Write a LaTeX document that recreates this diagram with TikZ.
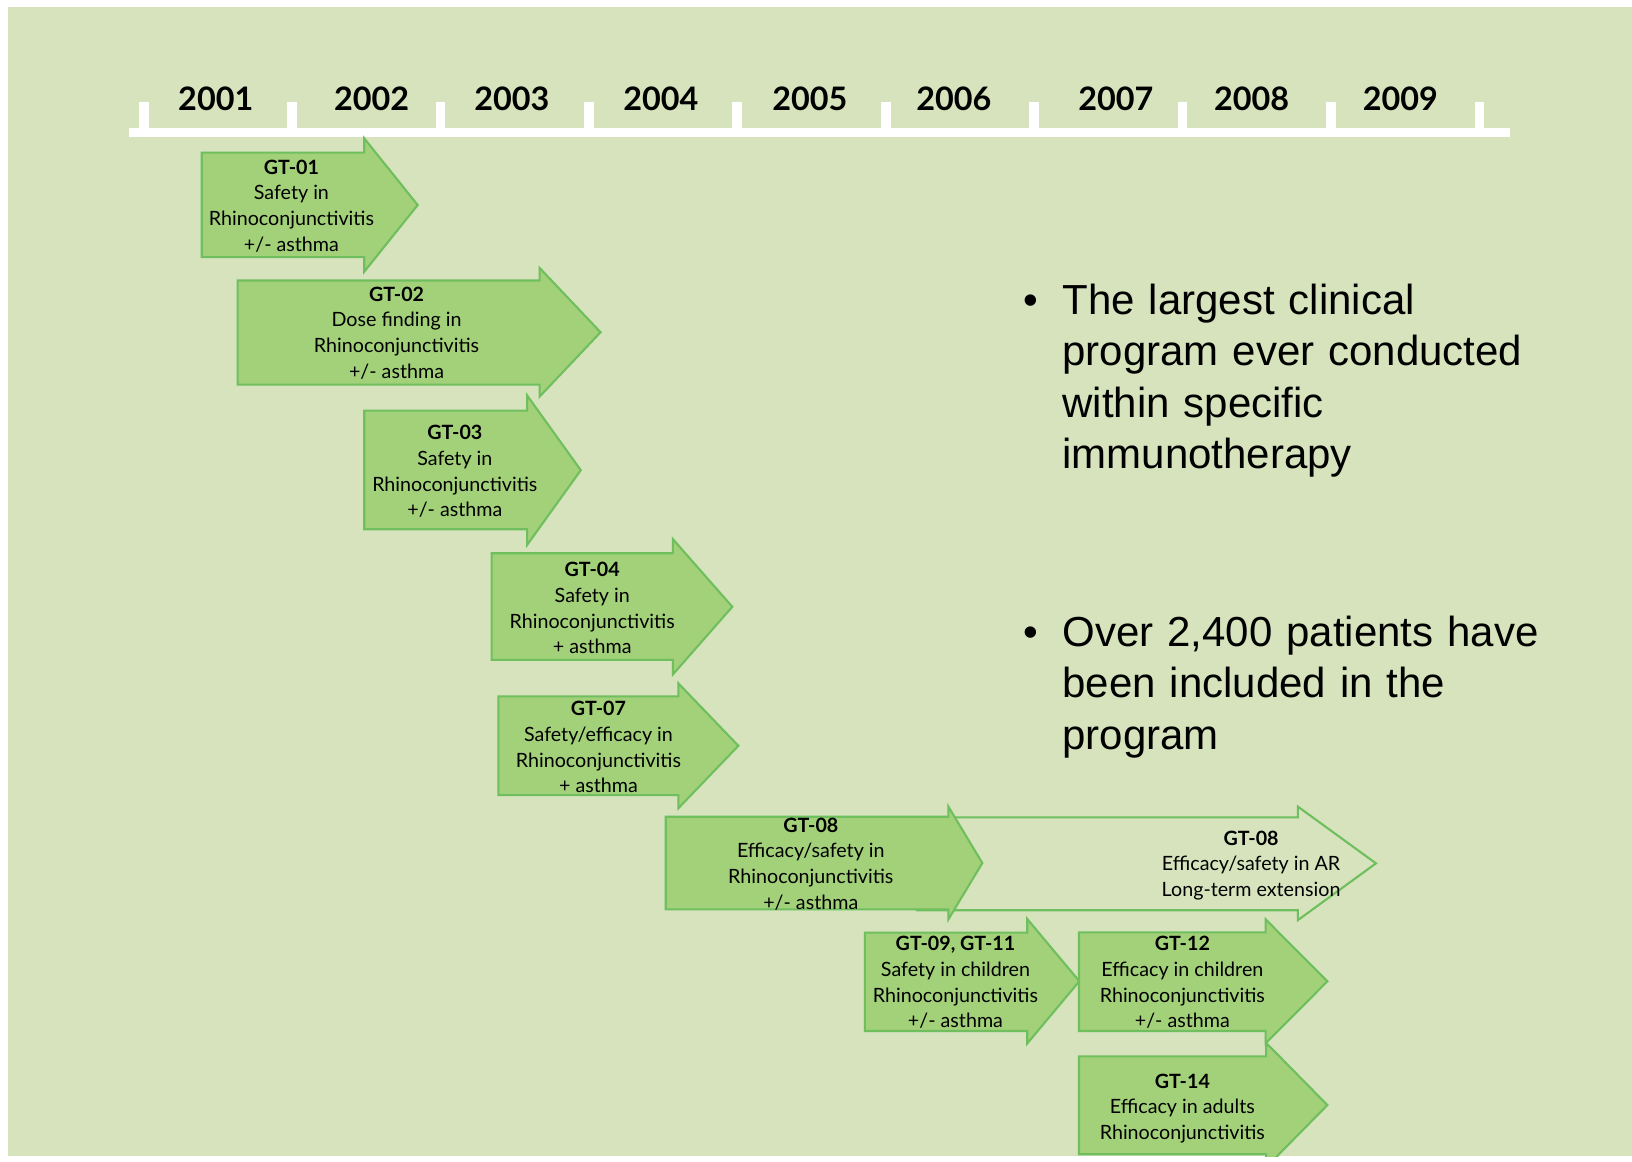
\documentclass[tikz,border=0pt]{standalone}
\usepackage{fontspec}
\setmainfont{Lato}
\newfontfamily\arialfont{Liberation Sans}
\usepackage{tikz}
\definecolor{slidebg}{HTML}{D6E3BC}
\definecolor{gtfill}{HTML}{A3D17A}
\definecolor{gtline}{HTML}{6FBF5F}
\def\gtarrow[#1](#2:#3:#4)(#5:#6:#7:#8){\draw[#1] (#2,#5) -- (#3,#5) -- (#3,#7) -- (#4,{(#7+#8)/2}) -- (#3,#8) -- (#3,#6) -- (#2,#6) -- cycle;}
\tikzset{
	gtbox/.style={fill=gtfill, draw=gtline, line width=0.6pt},
	gtopen/.style={draw=gtline, line width=0.6pt},
	gttext/.style={align=center, inner sep=0pt, font=\fontsize{5.6}{7.3}\selectfont},
	yearlbl/.style={anchor=base, inner sep=0pt, font=\fontsize{9.2}{11}\selectfont\bfseries},
	bulletxt/.style={anchor=base west, inner sep=0pt, text width=5.6cm, align=left, font=\arialfont\fontsize{11.95}{14.66}\selectfont},
	bulletdot/.style={anchor=base, inner sep=0pt, font=\arialfont\fontsize{11.95}{14.66}\selectfont}
}

\begin{document}
\begin{tikzpicture}[x={(0.010408cm,0)}, y={(0,-0.010408cm)}]
			%%%%% START %%%%%
			\useasboundingbox (0,0) rectangle (1568,1116);
			\fill[slidebg] (7.7,6.7) rectangle (1568,1111);
			
			% timeline
			\fill[white] (123.6,122.7) rectangle (1451,132);
			\fill[white] (133.3,98) rectangle (142.7,123);
			\fill[white] (275.9,98) rectangle (285.3,123);
			\fill[white] (418.5,98) rectangle (427.9,123);
			\fill[white] (561.1,98) rectangle (570.5,123);
			\fill[white] (703.7,98) rectangle (713.1,123);
			\fill[white] (846.3,98) rectangle (855.7,123);
			\fill[white] (988.9,98) rectangle (998.3,123);
			\fill[white] (1131.5,98) rectangle (1140.9,123);
			\fill[white] (1274.1,98) rectangle (1283.5,123);
			\fill[white] (1416.7,98) rectangle (1426.1,123);
			
			\node[yearlbl] (y2001) at (207.3,105.7) {2001};
			\node[yearlbl] (y2002) at (357,105.7) {2002};
			\node[yearlbl] (y2003) at (491.7,105.7) {2003};
			\node[yearlbl] (y2004) at (634.9,105.7) {2004};
			\node[yearlbl] (y2005) at (778,105.7) {2005};
			\node[yearlbl] (y2006) at (916.4,105.7) {2006};
			\node[yearlbl] (y2007) at (1072,105.7) {2007};
			\node[yearlbl] (y2008) at (1202.6,105.7) {2008};
			\node[yearlbl] (y2009) at (1345.4,105.7) {2009};
			
			% trials
			\begin{scope}
			\clip (7.7,6.7) rectangle (1568,1111);
			\gtarrow[gtbox](193.8:350:401.3)(146.7:247:133:261)
			\gtarrow[gtbox](228.3:518.5:577)(269.5:369.5:257.5:381)
			\gtarrow[gtbox](350:506.5:558)(394.5:508.5:380:523.5)
			\gtarrow[gtbox](472.4:646.5:703.6)(531.6:634:518:648)
			\gtarrow[gtbox](478.8:651.7:709.4)(669:764:656.5:776.6)
			\gtarrow[gtopen](881:1247:1322)(785.3:874.5:775:884)
			\gtarrow[gtbox](639.6:911.2:943.8)(784.7:873.7:775:883.3)
			\gtarrow[gtbox](831:987:1037)(896:990.6:883:1002.5)
			\gtarrow[gtbox](1036.7:1216.5:1275.3)(1015:1109:1002:1121.5)
			\gtarrow[gtbox](1036.7:1216:1275.3)(895.8:990.6:883.3:1002.4)
			\end{scope}
			
			\node[gttext] (gt01) at (280,198) {\textbf{GT-01}\\Safety in\\Rhinoconjunctivitis\\+/- asthma};
			\node[gttext] (gt02) at (381,320) {\textbf{GT-02}\\Dose finding in\\Rhinoconjunctivitis\\+/- asthma};
			\node[gttext] (gt03) at (437,453) {\textbf{GT-03}\\Safety in\\Rhinoconjunctivitis\\+/- asthma};
			\node[gttext] (gt04) at (569,584.5) {\textbf{GT-04}\\Safety in\\Rhinoconjunctivitis\\+ asthma};
			\node[gttext] (gt07) at (575,718) {\textbf{GT-07}\\Safety/efficacy in\\Rhinoconjunctivitis\\+ asthma};
			\node[gttext] (gt08) at (779,830) {\textbf{GT-08}\\Efficacy/safety in\\Rhinoconjunctivitis\\+/- asthma};
			\node[gttext] (gt08ext) at (1202,831.5) {\textbf{GT-08}\\Efficacy/safety in AR\\Long-term extension};
			\node[gttext] (gt09) at (918,944) {\textbf{GT-09, GT-11}\\Safety in children\\Rhinoconjunctivitis\\+/- asthma};
			\node[gttext] (gt12) at (1136,944) {\textbf{GT-12}\\Efficacy in children\\Rhinoconjunctivitis\\+/- asthma};
			\node[gttext] (gt14) at (1136,1065) {\textbf{GT-14}\\Efficacy in adults\\Rhinoconjunctivitis};
			
			% bullets
			\node[bulletdot] (dot1) at (990,302) {\textbullet};
			\node[bulletxt] (largest) at (1020,302) {The largest clinical\\program ever conducted\\within specific\\immunotherapy};
			\node[bulletdot] (dot2) at (990,621) {\textbullet};
			\node[bulletxt] (patients) at (1020,621) {Over 2,400 patients have\\been included in the\\program};
			%%%%% END %%%%%
\end{tikzpicture}
\end{document}
